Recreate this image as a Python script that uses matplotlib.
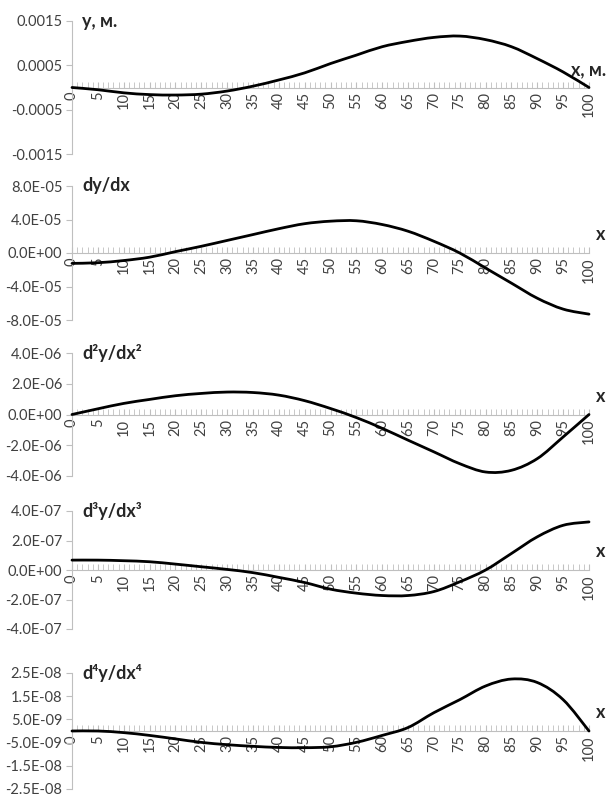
import numpy as np
import matplotlib.pyplot as plt
from matplotlib.path import Path
from matplotlib.patches import PathPatch

# x positions along the beam (m)
x = np.arange(0, 101, 5)

# values at every 5 m
y = [0, -0.00005, -0.00012, -0.00016, -0.00017, -0.00015, -0.00008, 0.00003,
     0.00017, 0.00033, 0.00054, 0.00073, 0.00092, 0.00104, 0.00113, 0.00116,
     0.00108, 0.00092, 0.00065, 0.00035, 0.0]
dy = [-1.24e-5, -1.16e-5, -0.9e-5, -0.5e-5, 0.16e-5, 0.8e-5, 1.5e-5, 2.2e-5,
      2.9e-5, 3.5e-5, 3.8e-5, 3.85e-5, 3.4e-5, 2.6e-5, 1.4e-5, 0.0,
      -1.8e-5, -3.6e-5, -5.4e-5, -6.7e-5, -7.3e-5]
d2y = [0, 0.37e-6, 0.72e-6, 0.98e-6, 1.22e-6, 1.37e-6, 1.46e-6, 1.43e-6,
       1.26e-6, 0.9e-6, 0.39e-6, -0.2e-6, -0.9e-6, -1.67e-6, -2.43e-6, -3.2e-6,
       -3.74e-6, -3.63e-6, -2.87e-6, -1.46e-6, 0.0]
d3y = [0.67e-7, 0.67e-7, 0.63e-7, 0.56e-7, 0.4e-7, 0.22e-7, 0.04e-7, -0.18e-7,
       -0.5e-7, -0.85e-7, -1.3e-7, -1.57e-7, -1.73e-7, -1.73e-7, -1.46e-7, -0.8e-7,
       0.0, 1.12e-7, 2.25e-7, 3.03e-7, 3.26e-7]
d4y = [0, 0, -0.07e-8, -0.19e-8, -0.34e-8, -0.49e-8, -0.59e-8, -0.66e-8,
       -0.71e-8, -0.72e-8, -0.68e-8, -0.49e-8, -0.19e-8, 0.15e-8, 0.79e-8, 1.35e-8,
       1.94e-8, 2.24e-8, 2.09e-8, 1.35e-8, 0.0]

series = [y, dy, d2y, d3y, d4y]
titles = ['y, м.', 'dy/dx', 'd²y/dx²', 'd³y/dx³', 'd⁴y/dx⁴']
xlabels = ['x, м.', 'x', 'x', 'x', 'x']

yticks = [
    [0.0015, 0.0005, -0.0005, -0.0015],
    [8e-5, 4e-5, 0, -4e-5, -8e-5],
    [4e-6, 2e-6, 0, -2e-6, -4e-6],
    [4e-7, 2e-7, 0, -2e-7, -4e-7],
    [2.5e-8, 1.5e-8, 5e-9, -5e-9, -1.5e-8, -2.5e-8],
]
ytick_labels = [
    ['0.0015', '0.0005', '-0.0005', '-0.0015'],
    ['8.0E-05', '4.0E-05', '0.0E+00', '-4.0E-05', '-8.0E-05'],
    ['4.0E-06', '2.0E-06', '0.0E+00', '-2.0E-06', '-4.0E-06'],
    ['4.0E-07', '2.0E-07', '0.0E+00', '-2.0E-07', '-4.0E-07'],
    ['2.5E-08', '1.5E-08', '5.0E-09', '-5.0E-09', '-1.5E-08', '-2.5E-08'],
]

# panel top / bottom in pixels (axis range ends)
panel_px = [(21, 154), (186, 320), (353, 476), (511, 629), (673, 789)]


def smooth_path(xs, ys):
    # Excel-like "smoothed line": Catmull-Rom segments drawn as cubic Beziers
    pts = np.column_stack([xs, ys]).astype(float)
    n = len(pts)
    verts = [pts[0]]
    codes = [Path.MOVETO]
    for k in range(n - 1):
        p0 = pts[max(k - 1, 0)]
        p1 = pts[k]
        p2 = pts[k + 1]
        p3 = pts[min(k + 2, n - 1)]
        verts += [p1 + (p2 - p0) / 6, p2 - (p3 - p1) / 6, p2]
        codes += [Path.CURVE4] * 3
    return Path(verts, codes)


W, H = 614, 797
fig = plt.figure(figsize=(W / 100, H / 100), dpi=100)
plt.rcParams['font.family'] = ['Lato', 'DejaVu Sans']

grey = '#bfbfbf'
txt = '#404040'
left, right = 72, 589

for i, (top, bot) in enumerate(panel_px):
    ax = fig.add_axes([left / W, 1 - bot / H, (right - left) / W, (bot - top) / H])
    for s in ['top', 'right']:
        ax.spines[s].set_visible(False)
    ax.spines['bottom'].set_position(('data', 0))
    ax.spines['bottom'].set_color(grey)
    ax.spines['left'].set_color(grey)
    ax.spines['bottom'].set_zorder(1)

    ax.add_patch(PathPatch(smooth_path(x, series[i]), fill=False, edgecolor='black',
                           lw=2.0, capstyle='round', zorder=3, clip_on=False))
    ax.set_xlim(0, 100)
    ax.set_ylim(min(yticks[i]), max(yticks[i]))
    ax.set_yticks(yticks[i])
    ax.set_yticklabels(ytick_labels[i])
    ax.set_xticks(np.arange(0, 101, 5))
    ax.set_xticklabels([str(v) for v in range(0, 101, 5)])
    ax.set_xticks(np.arange(0, 101, 1), minor=True)

    ax.tick_params(axis='x', which='both', direction='in', length=4, color=grey,
                   labelsize=10.5, labelcolor=txt, pad=3, labelrotation=90)
    ax.tick_params(axis='y', direction='out', length=4, color=grey,
                   labelsize=10.5, labelcolor=txt, pad=3)

    ax.text(0.02, 1.0, titles[i], transform=ax.transAxes, fontsize=13,
            fontweight='bold', color='#262626', ha='left', va='center')
    ax.annotate(xlabels[i], xy=(100, 0), xycoords='data', xytext=(12, 7),
                textcoords='offset points', fontsize=13, fontweight='bold',
                color='#262626', ha='right', va='bottom')

fig.savefig('out.png', dpi=100)
